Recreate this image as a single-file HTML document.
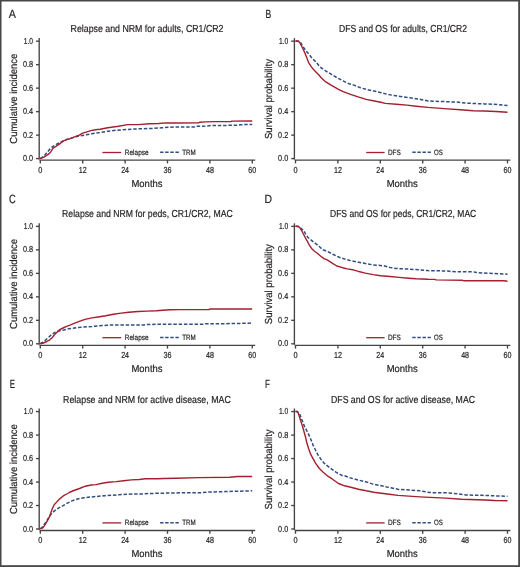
<!DOCTYPE html>
<html><head><meta charset="utf-8"><style>
html,body{margin:0;padding:0;background:#fff;}
svg{display:block;will-change:transform;}
text{font-family:"Liberation Sans",sans-serif;text-rendering:geometricPrecision;stroke:#231f20;stroke-width:0.2px;}
</style></head><body>
<svg width="520" height="567" viewBox="0 0 520 567">
<rect x="0" y="0" width="520" height="567" fill="#fff"/>
<text x="8.70" y="17.60" font-size="12" textLength="7.17" lengthAdjust="spacingAndGlyphs" fill="#231f20">A</text>
<text x="70.60" y="32.20" font-size="10.2" textLength="152.91" lengthAdjust="spacingAndGlyphs" fill="#231f20">Relapse and NRM for adults, CR1/CR2</text>
<line x1="39.20" y1="38.10" x2="39.20" y2="159.60" stroke="#444444" stroke-width="1.35"/>
<line x1="39.60" y1="160.10" x2="255.20" y2="160.10" stroke="#444444" stroke-width="1.35"/>
<line x1="36.00" y1="158.60" x2="39.20" y2="158.60" stroke="#444444" stroke-width="1.35"/>
<text x="22.90" y="161.20" font-size="8.7" textLength="10.10" lengthAdjust="spacingAndGlyphs" fill="#231f20">0.0</text>
<line x1="36.00" y1="135.12" x2="39.20" y2="135.12" stroke="#444444" stroke-width="1.35"/>
<text x="22.90" y="137.72" font-size="8.7" textLength="10.10" lengthAdjust="spacingAndGlyphs" fill="#231f20">0.2</text>
<line x1="36.00" y1="111.64" x2="39.20" y2="111.64" stroke="#444444" stroke-width="1.35"/>
<text x="22.90" y="114.24" font-size="8.7" textLength="10.10" lengthAdjust="spacingAndGlyphs" fill="#231f20">0.4</text>
<line x1="36.00" y1="88.16" x2="39.20" y2="88.16" stroke="#444444" stroke-width="1.35"/>
<text x="22.90" y="90.76" font-size="8.7" textLength="10.10" lengthAdjust="spacingAndGlyphs" fill="#231f20">0.6</text>
<line x1="36.00" y1="64.68" x2="39.20" y2="64.68" stroke="#444444" stroke-width="1.35"/>
<text x="22.90" y="67.28" font-size="8.7" textLength="10.10" lengthAdjust="spacingAndGlyphs" fill="#231f20">0.8</text>
<line x1="36.00" y1="41.20" x2="39.20" y2="41.20" stroke="#444444" stroke-width="1.35"/>
<text x="23.70" y="43.80" font-size="8.7" textLength="9.30" lengthAdjust="spacingAndGlyphs" fill="#231f20">1.0</text>
<line x1="40.30" y1="160.10" x2="40.30" y2="163.40" stroke="#444444" stroke-width="1.35"/>
<text x="38.25" y="172.90" font-size="8.7" textLength="4.11" lengthAdjust="spacingAndGlyphs" fill="#231f20">0</text>
<line x1="82.70" y1="160.10" x2="82.70" y2="163.40" stroke="#444444" stroke-width="1.35"/>
<text x="78.75" y="172.90" font-size="8.7" textLength="7.92" lengthAdjust="spacingAndGlyphs" fill="#231f20">12</text>
<line x1="125.09" y1="160.10" x2="125.09" y2="163.40" stroke="#444444" stroke-width="1.35"/>
<text x="121.14" y="172.90" font-size="8.7" textLength="7.92" lengthAdjust="spacingAndGlyphs" fill="#231f20">24</text>
<line x1="167.49" y1="160.10" x2="167.49" y2="163.40" stroke="#444444" stroke-width="1.35"/>
<text x="163.54" y="172.90" font-size="8.7" textLength="7.92" lengthAdjust="spacingAndGlyphs" fill="#231f20">36</text>
<line x1="209.88" y1="160.10" x2="209.88" y2="163.40" stroke="#444444" stroke-width="1.35"/>
<text x="205.93" y="172.90" font-size="8.7" textLength="7.92" lengthAdjust="spacingAndGlyphs" fill="#231f20">48</text>
<line x1="252.28" y1="160.10" x2="252.28" y2="163.40" stroke="#444444" stroke-width="1.35"/>
<text x="248.33" y="172.90" font-size="8.7" textLength="7.92" lengthAdjust="spacingAndGlyphs" fill="#231f20">60</text>
<text x="131.50" y="186.80" font-size="10.2" textLength="30.99" lengthAdjust="spacingAndGlyphs" fill="#231f20">Months</text>
<text transform="rotate(-90)" x="-143.70" y="16.50" font-size="10.2" textLength="89.90" lengthAdjust="spacingAndGlyphs" fill="#231f20">Cumulative incidence</text>
<line x1="102.40" y1="152.50" x2="121.20" y2="152.50" stroke="#a3202e" stroke-width="1.3"/>
<text x="124.80" y="154.60" font-size="7.7" textLength="23.79" lengthAdjust="spacingAndGlyphs" fill="#231f20">Relapse</text>
<line x1="160.10" y1="152.30" x2="178.80" y2="152.30" stroke="#314e7e" stroke-width="1.4" stroke-dasharray="3.4 1.7"/>
<text x="182.20" y="154.60" font-size="7.7" textLength="13.51" lengthAdjust="spacingAndGlyphs" fill="#231f20">TRM</text>
<text x="265.60" y="17.60" font-size="12" textLength="5.72" lengthAdjust="spacingAndGlyphs" fill="#231f20">B</text>
<text x="339.10" y="32.20" font-size="10.2" textLength="127.90" lengthAdjust="spacingAndGlyphs" fill="#231f20">DFS and OS for adults, CR1/CR2</text>
<line x1="294.40" y1="38.10" x2="294.40" y2="159.60" stroke="#444444" stroke-width="1.35"/>
<line x1="294.80" y1="160.10" x2="510.40" y2="160.10" stroke="#444444" stroke-width="1.35"/>
<line x1="291.20" y1="158.60" x2="294.40" y2="158.60" stroke="#444444" stroke-width="1.35"/>
<text x="278.10" y="161.20" font-size="8.7" textLength="10.10" lengthAdjust="spacingAndGlyphs" fill="#231f20">0.0</text>
<line x1="291.20" y1="135.12" x2="294.40" y2="135.12" stroke="#444444" stroke-width="1.35"/>
<text x="278.10" y="137.72" font-size="8.7" textLength="10.10" lengthAdjust="spacingAndGlyphs" fill="#231f20">0.2</text>
<line x1="291.20" y1="111.64" x2="294.40" y2="111.64" stroke="#444444" stroke-width="1.35"/>
<text x="278.10" y="114.24" font-size="8.7" textLength="10.10" lengthAdjust="spacingAndGlyphs" fill="#231f20">0.4</text>
<line x1="291.20" y1="88.16" x2="294.40" y2="88.16" stroke="#444444" stroke-width="1.35"/>
<text x="278.10" y="90.76" font-size="8.7" textLength="10.10" lengthAdjust="spacingAndGlyphs" fill="#231f20">0.6</text>
<line x1="291.20" y1="64.68" x2="294.40" y2="64.68" stroke="#444444" stroke-width="1.35"/>
<text x="278.10" y="67.28" font-size="8.7" textLength="10.10" lengthAdjust="spacingAndGlyphs" fill="#231f20">0.8</text>
<line x1="291.20" y1="41.20" x2="294.40" y2="41.20" stroke="#444444" stroke-width="1.35"/>
<text x="278.90" y="43.80" font-size="8.7" textLength="9.30" lengthAdjust="spacingAndGlyphs" fill="#231f20">1.0</text>
<line x1="295.50" y1="160.10" x2="295.50" y2="163.40" stroke="#444444" stroke-width="1.35"/>
<text x="293.45" y="172.90" font-size="8.7" textLength="4.11" lengthAdjust="spacingAndGlyphs" fill="#231f20">0</text>
<line x1="337.90" y1="160.10" x2="337.90" y2="163.40" stroke="#444444" stroke-width="1.35"/>
<text x="333.95" y="172.90" font-size="8.7" textLength="7.92" lengthAdjust="spacingAndGlyphs" fill="#231f20">12</text>
<line x1="380.29" y1="160.10" x2="380.29" y2="163.40" stroke="#444444" stroke-width="1.35"/>
<text x="376.34" y="172.90" font-size="8.7" textLength="7.92" lengthAdjust="spacingAndGlyphs" fill="#231f20">24</text>
<line x1="422.69" y1="160.10" x2="422.69" y2="163.40" stroke="#444444" stroke-width="1.35"/>
<text x="418.74" y="172.90" font-size="8.7" textLength="7.92" lengthAdjust="spacingAndGlyphs" fill="#231f20">36</text>
<line x1="465.08" y1="160.10" x2="465.08" y2="163.40" stroke="#444444" stroke-width="1.35"/>
<text x="461.13" y="172.90" font-size="8.7" textLength="7.92" lengthAdjust="spacingAndGlyphs" fill="#231f20">48</text>
<line x1="507.48" y1="160.10" x2="507.48" y2="163.40" stroke="#444444" stroke-width="1.35"/>
<text x="503.53" y="172.90" font-size="8.7" textLength="7.92" lengthAdjust="spacingAndGlyphs" fill="#231f20">60</text>
<text x="386.70" y="186.80" font-size="10.2" textLength="30.99" lengthAdjust="spacingAndGlyphs" fill="#231f20">Months</text>
<text transform="rotate(-90)" x="-139.00" y="271.70" font-size="10.2" textLength="79.98" lengthAdjust="spacingAndGlyphs" fill="#231f20">Survival probability</text>
<line x1="366.20" y1="152.50" x2="384.60" y2="152.50" stroke="#a3202e" stroke-width="1.3"/>
<text x="388.00" y="154.60" font-size="7.7" textLength="12.80" lengthAdjust="spacingAndGlyphs" fill="#231f20">DFS</text>
<line x1="412.30" y1="152.30" x2="430.80" y2="152.30" stroke="#314e7e" stroke-width="1.4" stroke-dasharray="3.4 1.7"/>
<text x="434.10" y="154.60" font-size="7.7" textLength="8.80" lengthAdjust="spacingAndGlyphs" fill="#231f20">OS</text>
<text x="8.90" y="202.80" font-size="12" textLength="6.72" lengthAdjust="spacingAndGlyphs" fill="#231f20">C</text>
<text x="62.10" y="217.40" font-size="10.2" textLength="170.59" lengthAdjust="spacingAndGlyphs" fill="#231f20">Relapse and NRM for peds, CR1/CR2, MAC</text>
<line x1="39.20" y1="223.30" x2="39.20" y2="344.80" stroke="#444444" stroke-width="1.35"/>
<line x1="39.60" y1="345.30" x2="255.20" y2="345.30" stroke="#444444" stroke-width="1.35"/>
<line x1="36.00" y1="343.80" x2="39.20" y2="343.80" stroke="#444444" stroke-width="1.35"/>
<text x="22.90" y="346.40" font-size="8.7" textLength="10.10" lengthAdjust="spacingAndGlyphs" fill="#231f20">0.0</text>
<line x1="36.00" y1="320.32" x2="39.20" y2="320.32" stroke="#444444" stroke-width="1.35"/>
<text x="22.90" y="322.92" font-size="8.7" textLength="10.10" lengthAdjust="spacingAndGlyphs" fill="#231f20">0.2</text>
<line x1="36.00" y1="296.84" x2="39.20" y2="296.84" stroke="#444444" stroke-width="1.35"/>
<text x="22.90" y="299.44" font-size="8.7" textLength="10.10" lengthAdjust="spacingAndGlyphs" fill="#231f20">0.4</text>
<line x1="36.00" y1="273.36" x2="39.20" y2="273.36" stroke="#444444" stroke-width="1.35"/>
<text x="22.90" y="275.96" font-size="8.7" textLength="10.10" lengthAdjust="spacingAndGlyphs" fill="#231f20">0.6</text>
<line x1="36.00" y1="249.88" x2="39.20" y2="249.88" stroke="#444444" stroke-width="1.35"/>
<text x="22.90" y="252.48" font-size="8.7" textLength="10.10" lengthAdjust="spacingAndGlyphs" fill="#231f20">0.8</text>
<line x1="36.00" y1="226.40" x2="39.20" y2="226.40" stroke="#444444" stroke-width="1.35"/>
<text x="23.70" y="229.00" font-size="8.7" textLength="9.30" lengthAdjust="spacingAndGlyphs" fill="#231f20">1.0</text>
<line x1="40.30" y1="345.30" x2="40.30" y2="348.60" stroke="#444444" stroke-width="1.35"/>
<text x="38.25" y="358.10" font-size="8.7" textLength="4.11" lengthAdjust="spacingAndGlyphs" fill="#231f20">0</text>
<line x1="82.70" y1="345.30" x2="82.70" y2="348.60" stroke="#444444" stroke-width="1.35"/>
<text x="78.75" y="358.10" font-size="8.7" textLength="7.92" lengthAdjust="spacingAndGlyphs" fill="#231f20">12</text>
<line x1="125.09" y1="345.30" x2="125.09" y2="348.60" stroke="#444444" stroke-width="1.35"/>
<text x="121.14" y="358.10" font-size="8.7" textLength="7.92" lengthAdjust="spacingAndGlyphs" fill="#231f20">24</text>
<line x1="167.49" y1="345.30" x2="167.49" y2="348.60" stroke="#444444" stroke-width="1.35"/>
<text x="163.54" y="358.10" font-size="8.7" textLength="7.92" lengthAdjust="spacingAndGlyphs" fill="#231f20">36</text>
<line x1="209.88" y1="345.30" x2="209.88" y2="348.60" stroke="#444444" stroke-width="1.35"/>
<text x="205.93" y="358.10" font-size="8.7" textLength="7.92" lengthAdjust="spacingAndGlyphs" fill="#231f20">48</text>
<line x1="252.28" y1="345.30" x2="252.28" y2="348.60" stroke="#444444" stroke-width="1.35"/>
<text x="248.33" y="358.10" font-size="8.7" textLength="7.92" lengthAdjust="spacingAndGlyphs" fill="#231f20">60</text>
<text x="131.50" y="372.00" font-size="10.2" textLength="30.99" lengthAdjust="spacingAndGlyphs" fill="#231f20">Months</text>
<text transform="rotate(-90)" x="-328.90" y="16.50" font-size="10.2" textLength="89.90" lengthAdjust="spacingAndGlyphs" fill="#231f20">Cumulative incidence</text>
<line x1="102.40" y1="337.70" x2="121.20" y2="337.70" stroke="#a3202e" stroke-width="1.3"/>
<text x="124.80" y="339.80" font-size="7.7" textLength="23.79" lengthAdjust="spacingAndGlyphs" fill="#231f20">Relapse</text>
<line x1="160.10" y1="337.50" x2="178.80" y2="337.50" stroke="#314e7e" stroke-width="1.4" stroke-dasharray="3.4 1.7"/>
<text x="182.20" y="339.80" font-size="7.7" textLength="13.51" lengthAdjust="spacingAndGlyphs" fill="#231f20">TRM</text>
<text x="264.50" y="202.80" font-size="12" textLength="7.52" lengthAdjust="spacingAndGlyphs" fill="#231f20">D</text>
<text x="330.00" y="217.40" font-size="10.2" textLength="146.28" lengthAdjust="spacingAndGlyphs" fill="#231f20">DFS and OS for peds, CR1/CR2, MAC</text>
<line x1="294.40" y1="223.30" x2="294.40" y2="344.80" stroke="#444444" stroke-width="1.35"/>
<line x1="294.80" y1="345.30" x2="510.40" y2="345.30" stroke="#444444" stroke-width="1.35"/>
<line x1="291.20" y1="343.80" x2="294.40" y2="343.80" stroke="#444444" stroke-width="1.35"/>
<text x="278.10" y="346.40" font-size="8.7" textLength="10.10" lengthAdjust="spacingAndGlyphs" fill="#231f20">0.0</text>
<line x1="291.20" y1="320.32" x2="294.40" y2="320.32" stroke="#444444" stroke-width="1.35"/>
<text x="278.10" y="322.92" font-size="8.7" textLength="10.10" lengthAdjust="spacingAndGlyphs" fill="#231f20">0.2</text>
<line x1="291.20" y1="296.84" x2="294.40" y2="296.84" stroke="#444444" stroke-width="1.35"/>
<text x="278.10" y="299.44" font-size="8.7" textLength="10.10" lengthAdjust="spacingAndGlyphs" fill="#231f20">0.4</text>
<line x1="291.20" y1="273.36" x2="294.40" y2="273.36" stroke="#444444" stroke-width="1.35"/>
<text x="278.10" y="275.96" font-size="8.7" textLength="10.10" lengthAdjust="spacingAndGlyphs" fill="#231f20">0.6</text>
<line x1="291.20" y1="249.88" x2="294.40" y2="249.88" stroke="#444444" stroke-width="1.35"/>
<text x="278.10" y="252.48" font-size="8.7" textLength="10.10" lengthAdjust="spacingAndGlyphs" fill="#231f20">0.8</text>
<line x1="291.20" y1="226.40" x2="294.40" y2="226.40" stroke="#444444" stroke-width="1.35"/>
<text x="278.90" y="229.00" font-size="8.7" textLength="9.30" lengthAdjust="spacingAndGlyphs" fill="#231f20">1.0</text>
<line x1="295.50" y1="345.30" x2="295.50" y2="348.60" stroke="#444444" stroke-width="1.35"/>
<text x="293.45" y="358.10" font-size="8.7" textLength="4.11" lengthAdjust="spacingAndGlyphs" fill="#231f20">0</text>
<line x1="337.90" y1="345.30" x2="337.90" y2="348.60" stroke="#444444" stroke-width="1.35"/>
<text x="333.95" y="358.10" font-size="8.7" textLength="7.92" lengthAdjust="spacingAndGlyphs" fill="#231f20">12</text>
<line x1="380.29" y1="345.30" x2="380.29" y2="348.60" stroke="#444444" stroke-width="1.35"/>
<text x="376.34" y="358.10" font-size="8.7" textLength="7.92" lengthAdjust="spacingAndGlyphs" fill="#231f20">24</text>
<line x1="422.69" y1="345.30" x2="422.69" y2="348.60" stroke="#444444" stroke-width="1.35"/>
<text x="418.74" y="358.10" font-size="8.7" textLength="7.92" lengthAdjust="spacingAndGlyphs" fill="#231f20">36</text>
<line x1="465.08" y1="345.30" x2="465.08" y2="348.60" stroke="#444444" stroke-width="1.35"/>
<text x="461.13" y="358.10" font-size="8.7" textLength="7.92" lengthAdjust="spacingAndGlyphs" fill="#231f20">48</text>
<line x1="507.48" y1="345.30" x2="507.48" y2="348.60" stroke="#444444" stroke-width="1.35"/>
<text x="503.53" y="358.10" font-size="8.7" textLength="7.92" lengthAdjust="spacingAndGlyphs" fill="#231f20">60</text>
<text x="386.70" y="372.00" font-size="10.2" textLength="30.99" lengthAdjust="spacingAndGlyphs" fill="#231f20">Months</text>
<text transform="rotate(-90)" x="-324.20" y="271.70" font-size="10.2" textLength="79.98" lengthAdjust="spacingAndGlyphs" fill="#231f20">Survival probability</text>
<line x1="366.20" y1="337.70" x2="384.60" y2="337.70" stroke="#a3202e" stroke-width="1.3"/>
<text x="388.00" y="339.80" font-size="7.7" textLength="12.80" lengthAdjust="spacingAndGlyphs" fill="#231f20">DFS</text>
<line x1="412.30" y1="337.50" x2="430.80" y2="337.50" stroke="#314e7e" stroke-width="1.4" stroke-dasharray="3.4 1.7"/>
<text x="434.10" y="339.80" font-size="7.7" textLength="8.80" lengthAdjust="spacingAndGlyphs" fill="#231f20">OS</text>
<text x="9.80" y="388.00" font-size="12" textLength="5.22" lengthAdjust="spacingAndGlyphs" fill="#231f20">E</text>
<text x="63.10" y="402.60" font-size="10.2" textLength="167.68" lengthAdjust="spacingAndGlyphs" fill="#231f20">Relapse and NRM for active disease, MAC</text>
<line x1="39.20" y1="408.50" x2="39.20" y2="530.00" stroke="#444444" stroke-width="1.35"/>
<line x1="39.60" y1="530.50" x2="255.20" y2="530.50" stroke="#444444" stroke-width="1.35"/>
<line x1="36.00" y1="529.00" x2="39.20" y2="529.00" stroke="#444444" stroke-width="1.35"/>
<text x="22.90" y="531.60" font-size="8.7" textLength="10.10" lengthAdjust="spacingAndGlyphs" fill="#231f20">0.0</text>
<line x1="36.00" y1="505.52" x2="39.20" y2="505.52" stroke="#444444" stroke-width="1.35"/>
<text x="22.90" y="508.12" font-size="8.7" textLength="10.10" lengthAdjust="spacingAndGlyphs" fill="#231f20">0.2</text>
<line x1="36.00" y1="482.04" x2="39.20" y2="482.04" stroke="#444444" stroke-width="1.35"/>
<text x="22.90" y="484.64" font-size="8.7" textLength="10.10" lengthAdjust="spacingAndGlyphs" fill="#231f20">0.4</text>
<line x1="36.00" y1="458.56" x2="39.20" y2="458.56" stroke="#444444" stroke-width="1.35"/>
<text x="22.90" y="461.16" font-size="8.7" textLength="10.10" lengthAdjust="spacingAndGlyphs" fill="#231f20">0.6</text>
<line x1="36.00" y1="435.08" x2="39.20" y2="435.08" stroke="#444444" stroke-width="1.35"/>
<text x="22.90" y="437.68" font-size="8.7" textLength="10.10" lengthAdjust="spacingAndGlyphs" fill="#231f20">0.8</text>
<line x1="36.00" y1="411.60" x2="39.20" y2="411.60" stroke="#444444" stroke-width="1.35"/>
<text x="23.70" y="414.20" font-size="8.7" textLength="9.30" lengthAdjust="spacingAndGlyphs" fill="#231f20">1.0</text>
<line x1="40.30" y1="530.50" x2="40.30" y2="533.80" stroke="#444444" stroke-width="1.35"/>
<text x="38.25" y="543.30" font-size="8.7" textLength="4.11" lengthAdjust="spacingAndGlyphs" fill="#231f20">0</text>
<line x1="82.70" y1="530.50" x2="82.70" y2="533.80" stroke="#444444" stroke-width="1.35"/>
<text x="78.75" y="543.30" font-size="8.7" textLength="7.92" lengthAdjust="spacingAndGlyphs" fill="#231f20">12</text>
<line x1="125.09" y1="530.50" x2="125.09" y2="533.80" stroke="#444444" stroke-width="1.35"/>
<text x="121.14" y="543.30" font-size="8.7" textLength="7.92" lengthAdjust="spacingAndGlyphs" fill="#231f20">24</text>
<line x1="167.49" y1="530.50" x2="167.49" y2="533.80" stroke="#444444" stroke-width="1.35"/>
<text x="163.54" y="543.30" font-size="8.7" textLength="7.92" lengthAdjust="spacingAndGlyphs" fill="#231f20">36</text>
<line x1="209.88" y1="530.50" x2="209.88" y2="533.80" stroke="#444444" stroke-width="1.35"/>
<text x="205.93" y="543.30" font-size="8.7" textLength="7.92" lengthAdjust="spacingAndGlyphs" fill="#231f20">48</text>
<line x1="252.28" y1="530.50" x2="252.28" y2="533.80" stroke="#444444" stroke-width="1.35"/>
<text x="248.33" y="543.30" font-size="8.7" textLength="7.92" lengthAdjust="spacingAndGlyphs" fill="#231f20">60</text>
<text x="131.50" y="557.20" font-size="10.2" textLength="30.99" lengthAdjust="spacingAndGlyphs" fill="#231f20">Months</text>
<text transform="rotate(-90)" x="-514.10" y="16.50" font-size="10.2" textLength="89.90" lengthAdjust="spacingAndGlyphs" fill="#231f20">Cumulative incidence</text>
<line x1="102.40" y1="522.90" x2="121.20" y2="522.90" stroke="#a3202e" stroke-width="1.3"/>
<text x="124.80" y="525.00" font-size="7.7" textLength="23.79" lengthAdjust="spacingAndGlyphs" fill="#231f20">Relapse</text>
<line x1="160.10" y1="522.70" x2="178.80" y2="522.70" stroke="#314e7e" stroke-width="1.4" stroke-dasharray="3.4 1.7"/>
<text x="182.20" y="525.00" font-size="7.7" textLength="13.51" lengthAdjust="spacingAndGlyphs" fill="#231f20">TRM</text>
<text x="265.10" y="388.00" font-size="12" textLength="4.91" lengthAdjust="spacingAndGlyphs" fill="#231f20">F</text>
<text x="331.00" y="402.60" font-size="10.2" textLength="144.01" lengthAdjust="spacingAndGlyphs" fill="#231f20">DFS and OS for active disease, MAC</text>
<line x1="294.40" y1="408.50" x2="294.40" y2="530.00" stroke="#444444" stroke-width="1.35"/>
<line x1="294.80" y1="530.50" x2="510.40" y2="530.50" stroke="#444444" stroke-width="1.35"/>
<line x1="291.20" y1="529.00" x2="294.40" y2="529.00" stroke="#444444" stroke-width="1.35"/>
<text x="278.10" y="531.60" font-size="8.7" textLength="10.10" lengthAdjust="spacingAndGlyphs" fill="#231f20">0.0</text>
<line x1="291.20" y1="505.52" x2="294.40" y2="505.52" stroke="#444444" stroke-width="1.35"/>
<text x="278.10" y="508.12" font-size="8.7" textLength="10.10" lengthAdjust="spacingAndGlyphs" fill="#231f20">0.2</text>
<line x1="291.20" y1="482.04" x2="294.40" y2="482.04" stroke="#444444" stroke-width="1.35"/>
<text x="278.10" y="484.64" font-size="8.7" textLength="10.10" lengthAdjust="spacingAndGlyphs" fill="#231f20">0.4</text>
<line x1="291.20" y1="458.56" x2="294.40" y2="458.56" stroke="#444444" stroke-width="1.35"/>
<text x="278.10" y="461.16" font-size="8.7" textLength="10.10" lengthAdjust="spacingAndGlyphs" fill="#231f20">0.6</text>
<line x1="291.20" y1="435.08" x2="294.40" y2="435.08" stroke="#444444" stroke-width="1.35"/>
<text x="278.10" y="437.68" font-size="8.7" textLength="10.10" lengthAdjust="spacingAndGlyphs" fill="#231f20">0.8</text>
<line x1="291.20" y1="411.60" x2="294.40" y2="411.60" stroke="#444444" stroke-width="1.35"/>
<text x="278.90" y="414.20" font-size="8.7" textLength="9.30" lengthAdjust="spacingAndGlyphs" fill="#231f20">1.0</text>
<line x1="295.50" y1="530.50" x2="295.50" y2="533.80" stroke="#444444" stroke-width="1.35"/>
<text x="293.45" y="543.30" font-size="8.7" textLength="4.11" lengthAdjust="spacingAndGlyphs" fill="#231f20">0</text>
<line x1="337.90" y1="530.50" x2="337.90" y2="533.80" stroke="#444444" stroke-width="1.35"/>
<text x="333.95" y="543.30" font-size="8.7" textLength="7.92" lengthAdjust="spacingAndGlyphs" fill="#231f20">12</text>
<line x1="380.29" y1="530.50" x2="380.29" y2="533.80" stroke="#444444" stroke-width="1.35"/>
<text x="376.34" y="543.30" font-size="8.7" textLength="7.92" lengthAdjust="spacingAndGlyphs" fill="#231f20">24</text>
<line x1="422.69" y1="530.50" x2="422.69" y2="533.80" stroke="#444444" stroke-width="1.35"/>
<text x="418.74" y="543.30" font-size="8.7" textLength="7.92" lengthAdjust="spacingAndGlyphs" fill="#231f20">36</text>
<line x1="465.08" y1="530.50" x2="465.08" y2="533.80" stroke="#444444" stroke-width="1.35"/>
<text x="461.13" y="543.30" font-size="8.7" textLength="7.92" lengthAdjust="spacingAndGlyphs" fill="#231f20">48</text>
<line x1="507.48" y1="530.50" x2="507.48" y2="533.80" stroke="#444444" stroke-width="1.35"/>
<text x="503.53" y="543.30" font-size="8.7" textLength="7.92" lengthAdjust="spacingAndGlyphs" fill="#231f20">60</text>
<text x="386.70" y="557.20" font-size="10.2" textLength="30.99" lengthAdjust="spacingAndGlyphs" fill="#231f20">Months</text>
<text transform="rotate(-90)" x="-509.40" y="271.70" font-size="10.2" textLength="79.98" lengthAdjust="spacingAndGlyphs" fill="#231f20">Survival probability</text>
<line x1="366.20" y1="522.90" x2="384.60" y2="522.90" stroke="#a3202e" stroke-width="1.3"/>
<text x="388.00" y="525.00" font-size="7.7" textLength="12.80" lengthAdjust="spacingAndGlyphs" fill="#231f20">DFS</text>
<line x1="412.30" y1="522.70" x2="430.80" y2="522.70" stroke="#314e7e" stroke-width="1.4" stroke-dasharray="3.4 1.7"/>
<text x="434.10" y="525.00" font-size="7.7" textLength="8.80" lengthAdjust="spacingAndGlyphs" fill="#231f20">OS</text>
<polyline points="40.2,158.6 42.0,157.4 44.6,155.4 46.9,152.5 49.2,149.9 52.1,147.0 55.6,144.7 59.0,143.0 63.1,141.0 66.5,139.5 70.0,138.6 75.8,136.7 80.4,135.8 86.2,134.8 91.9,133.7 100.0,132.6 107.7,131.2 115.4,130.3 127.7,129.4 138.5,128.8 150.8,128.5 161.5,127.8 169.2,127.2 176.0,127.0 194.5,126.9 196.0,126.3 206.8,126.1 211.4,125.5 237.5,125.3 240.6,124.7 252.2,124.4" fill="none" stroke="#314e7e" stroke-width="1.5" stroke-linejoin="round" stroke-dasharray="3.5 1.8"/>
<polyline points="40.2,158.6 43.5,157.4 47.5,154.9 50.4,152.5 52.1,149.6 52.9,148.4 55.0,147.0 59.0,144.4 63.1,141.2 66.5,139.6 70.0,138.7 74.6,136.9 79.2,135.2 82.7,133.2 86.2,132.1 90.8,130.6 95.4,129.8 100.0,129.2 107.7,127.7 118.5,126.2 127.7,124.6 138.5,124.6 149.2,123.8 158.5,123.5 166.2,122.9 176.0,123.0 198.5,122.9 199.5,122.3 206.0,121.9 214.0,121.6 231.0,121.5 232.0,121.1 252.2,121.0" fill="none" stroke="#a3202e" stroke-width="1.4" stroke-linejoin="round"/>
<polyline points="295.5,41.0 298.5,41.2 300.4,42.2 302.5,45.8 305.3,50.0 308.1,53.2 310.9,56.7 313.8,59.9 316.6,62.7 319.4,66.2 320.0,66.9 325.8,71.0 331.5,74.4 337.3,77.9 343.1,80.8 348.8,83.7 354.6,85.4 360.4,87.7 366.2,89.4 371.9,90.6 380.0,92.4 388.5,94.6 396.2,95.8 403.8,96.9 411.5,98.0 419.2,99.2 428.0,100.9 444.2,101.6 457.1,102.1 466.8,103.2 484.5,103.9 497.5,104.5 507.5,105.6" fill="none" stroke="#314e7e" stroke-width="1.5" stroke-linejoin="round" stroke-dasharray="3.5 1.8"/>
<polyline points="295.5,41.0 298.6,41.3 300.4,43.6 301.8,46.5 303.5,50.0 305.3,53.9 307.1,58.5 308.5,62.3 310.9,66.2 313.1,69.1 315.9,71.9 318.7,74.7 321.2,77.7 325.8,81.9 331.5,85.4 338.5,89.4 343.1,91.7 351.2,94.6 358.1,96.9 366.2,99.4 373.1,100.8 380.8,102.3 385.4,103.4 396.2,104.2 406.9,105.1 416.2,106.2 428.0,107.4 444.2,108.6 460.3,109.7 473.2,110.7 484.5,111.0 495.9,111.5 507.5,112.3" fill="none" stroke="#a3202e" stroke-width="1.4" stroke-linejoin="round"/>
<polyline points="40.2,343.7 42.9,342.1 45.2,340.4 48.7,337.2 51.5,334.6 55.0,332.3 59.0,330.9 63.7,330.0 68.9,328.8 76.9,327.7 83.8,326.9 91.9,326.5 98.0,325.9 108.8,325.1 144.2,324.9 147.2,324.4 176.0,324.3 203.7,324.2 205.2,323.8 231.4,323.6 248.3,323.2 252.2,322.8" fill="none" stroke="#314e7e" stroke-width="1.5" stroke-linejoin="round" stroke-dasharray="3.5 1.8"/>
<polyline points="40.2,343.7 43.5,343.0 46.9,341.5 49.8,339.8 52.1,337.8 53.8,335.5 55.6,333.5 57.9,331.4 60.2,329.4 63.1,328.0 66.5,326.3 70.0,325.1 73.5,323.7 79.2,321.3 85.0,319.4 91.9,317.9 98.0,317.0 105.7,315.8 113.4,314.2 121.1,313.1 128.8,312.3 138.0,311.5 147.2,311.1 156.5,310.8 162.6,310.3 170.3,309.7 179.1,309.6 209.1,309.6 209.8,309.0 252.2,309.0" fill="none" stroke="#a3202e" stroke-width="1.4" stroke-linejoin="round"/>
<polyline points="295.5,226.2 298.6,226.5 300.4,227.9 303.9,230.8 306.0,235.0 308.1,237.5 310.9,239.9 314.5,242.8 317.3,244.9 320.1,247.3 322.9,249.8 327.6,251.6 333.4,254.5 339.2,257.3 344.9,259.1 350.0,260.5 357.7,262.0 365.4,263.5 373.1,264.9 383.8,265.8 390.0,267.4 396.2,268.5 405.4,268.9 414.6,269.5 428.0,270.6 447.4,271.0 450.6,271.6 473.2,271.8 476.5,272.6 492.6,273.4 507.5,274.2" fill="none" stroke="#314e7e" stroke-width="1.5" stroke-linejoin="round" stroke-dasharray="3.5 1.8"/>
<polyline points="295.5,226.2 298.6,226.5 300.4,228.6 302.1,231.5 303.9,235.0 305.6,238.2 307.4,241.3 309.2,244.9 311.6,248.4 314.5,251.2 317.3,253.3 320.8,256.2 324.0,258.6 327.6,260.2 332.2,263.1 336.8,266.0 342.6,267.7 347.2,268.9 353.0,269.8 357.7,271.2 365.4,273.1 373.1,274.6 380.8,275.7 390.0,276.5 399.2,277.4 408.5,278.2 416.2,278.8 428.0,279.3 434.5,279.4 436.1,279.9 461.9,280.2 463.5,280.7 503.9,280.7 507.5,281.3" fill="none" stroke="#a3202e" stroke-width="1.4" stroke-linejoin="round"/>
<polyline points="40.2,528.8 42.9,526.5 46.5,521.1 50.7,514.7 52.8,512.2 56.3,509.4 59.2,507.6 62.7,505.9 66.9,503.4 72.6,500.6 78.4,498.8 84.2,497.7 89.9,497.1 96.0,496.5 103.7,495.8 111.4,495.3 119.1,494.7 126.8,494.2 142.2,493.9 149.8,493.5 160.6,493.2 176.0,492.9 200.6,492.7 208.3,492.1 225.2,491.6 237.5,491.2 252.2,490.8" fill="none" stroke="#314e7e" stroke-width="1.5" stroke-linejoin="round" stroke-dasharray="3.5 1.8"/>
<polyline points="40.2,528.8 42.9,527.8 45.1,524.6 47.2,521.1 49.3,517.2 50.7,513.3 52.1,509.1 54.2,504.8 57.1,501.6 60.6,498.1 64.1,495.3 67.6,493.5 69.2,492.5 73.8,490.5 79.5,488.5 85.3,486.2 91.1,485.0 96.0,484.6 102.2,483.2 108.3,482.2 116.0,481.6 123.7,480.8 131.4,479.9 139.1,479.5 145.2,478.8 157.5,478.8 163.7,478.5 176.0,478.3 199.1,477.6 229.8,477.3 237.5,476.5 252.2,476.5" fill="none" stroke="#a3202e" stroke-width="1.4" stroke-linejoin="round"/>
<polyline points="295.5,411.4 297.5,411.5 300.0,414.7 301.4,418.6 302.8,422.1 304.6,426.7 306.7,430.6 308.5,434.1 309.9,437.3 311.6,441.2 313.2,445.4 315.5,450.0 317.8,454.6 320.9,459.2 324.0,463.1 327.8,466.2 331.7,469.2 336.3,472.3 341.7,475.4 344.6,475.8 350.8,478.1 358.5,480.1 366.2,481.9 372.3,483.9 381.5,485.8 390.8,487.8 398.0,489.3 419.9,490.8 430.0,492.6 448.9,492.9 458.4,493.9 466.3,495.0 482.0,495.3 493.1,495.8 507.5,496.2" fill="none" stroke="#314e7e" stroke-width="1.5" stroke-linejoin="round" stroke-dasharray="3.5 1.8"/>
<polyline points="295.5,411.4 296.8,411.4 298.2,412.9 299.6,417.2 301.1,422.1 302.5,426.3 303.9,431.3 305.3,436.2 306.2,440.0 307.1,443.8 308.6,448.5 310.2,453.1 312.5,457.7 315.5,463.1 319.4,468.5 323.2,472.3 327.8,476.2 332.5,479.2 338.5,483.5 344.6,485.8 350.8,487.3 358.5,489.2 366.2,490.8 373.8,492.2 381.5,493.2 389.2,494.2 398.0,495.4 419.9,496.9 430.0,497.4 445.8,498.1 461.5,499.2 477.3,499.7 485.2,500.0 494.7,500.5 507.5,500.8" fill="none" stroke="#a3202e" stroke-width="1.4" stroke-linejoin="round"/>
<rect x="0" y="0" width="1.5" height="567" fill="#474747"/>
<rect x="0" y="0" width="520" height="1.5" fill="#474747"/>
<rect x="518.2" y="0" width="1.8" height="567" fill="#474747"/>
<rect x="0" y="565.2" width="520" height="1.8" fill="#474747"/>
</svg>
</body></html>
